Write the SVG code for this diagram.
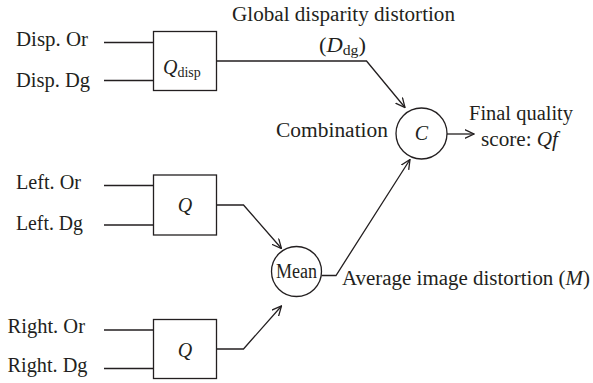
<svg xmlns="http://www.w3.org/2000/svg" width="593" height="383" viewBox="0 0 593 383">
<style>
text{font-family:"Liberation Serif","Times New Roman",serif;font-size:20px;fill:#231f20}
.it{font-style:italic}
.sub{font-size:14px}
.box{fill:#fff;stroke:#231f20;stroke-width:1.3}
.ln{fill:none;stroke:#231f20;stroke-width:1.3}
</style>
<defs>
<marker id="arr" viewBox="0 0 10 10" refX="9.5" refY="5" markerWidth="10" markerHeight="10" markerUnits="userSpaceOnUse" orient="auto">
<path d="M0,0.5 L9.5,5 L0,9.5" fill="none" stroke="#231f20" stroke-width="1.3"/>
</marker>
</defs>
<rect width="593" height="383" fill="#fff"/>
<g id="labels">
<text x="16" y="46" textLength="72" lengthAdjust="spacingAndGlyphs">Disp. Or</text>
<text x="16" y="87" textLength="74" lengthAdjust="spacingAndGlyphs">Disp. Dg</text>
<text x="16" y="189" textLength="65" lengthAdjust="spacingAndGlyphs">Left. Or</text>
<text x="16" y="230" textLength="67" lengthAdjust="spacingAndGlyphs">Left. Dg</text>
<text x="7.5" y="333" textLength="77.5" lengthAdjust="spacingAndGlyphs">Right. Or</text>
<text x="7.5" y="372" textLength="80" lengthAdjust="spacingAndGlyphs">Right. Dg</text>
<text x="232" y="21" textLength="223" lengthAdjust="spacingAndGlyphs">Global disparity distortion</text>
<text x="319" y="52" textLength="47" lengthAdjust="spacingAndGlyphs">(<tspan class="it">D</tspan><tspan class="sub" dy="3">dg</tspan><tspan dy="-3">)</tspan></text>
<text x="276" y="137" textLength="112" lengthAdjust="spacingAndGlyphs">Combination</text>
<text x="469" y="120" textLength="104" lengthAdjust="spacingAndGlyphs">Final quality</text>
<text x="481" y="146" textLength="77" lengthAdjust="spacingAndGlyphs">score: <tspan class="it">Qf</tspan></text>
<text x="342" y="285" textLength="248" lengthAdjust="spacingAndGlyphs">Average image distortion (<tspan class="it">M</tspan>)</text>
</g>
<g id="connectors">
<path class="ln" d="M104,42.5 H153.5 M104,80.5 H153.5"/>
<path class="ln" d="M104,185.5 H153.5 M104,225 H153.5"/>
<path class="ln" d="M104,330 H153.5 M104,368.5 H153.5"/>
<path class="ln" marker-end="url(#arr)" d="M216.5,61 H366.5 L405,107.5"/>
<path class="ln" marker-end="url(#arr)" d="M216.5,205 H243.5 L281.5,248.5"/>
<path class="ln" marker-end="url(#arr)" d="M216.5,349 H243.5 L281.5,306"/>
<path class="ln" marker-end="url(#arr)" d="M321.5,275.5 H336 L410,159.5"/>
<path class="ln" marker-end="url(#arr)" d="M447,134 H474"/>
</g>
<g id="qdisp">
<rect class="box" x="153.5" y="31.5" width="63" height="59"/>
<text x="163" y="74"><tspan class="it">Q</tspan><tspan class="sub" dy="3">disp</tspan></text>
</g>
<g id="qleft">
<rect class="box" x="153.5" y="175" width="63" height="60"/>
<text class="it" x="185" y="212" text-anchor="middle">Q</text>
</g>
<g id="qright">
<rect class="box" x="153.5" y="319.5" width="63" height="59"/>
<text class="it" x="185" y="357" text-anchor="middle">Q</text>
</g>
<g id="mean">
<circle class="box" cx="296.5" cy="271.5" r="25"/>
<text x="296.5" y="277.5" text-anchor="middle" textLength="41" lengthAdjust="spacingAndGlyphs">Mean</text>
</g>
<g id="combination">
<circle class="box" cx="421.5" cy="133.5" r="25.5"/>
<text class="it" x="421.5" y="140" text-anchor="middle">C</text>
</g>
</svg>
